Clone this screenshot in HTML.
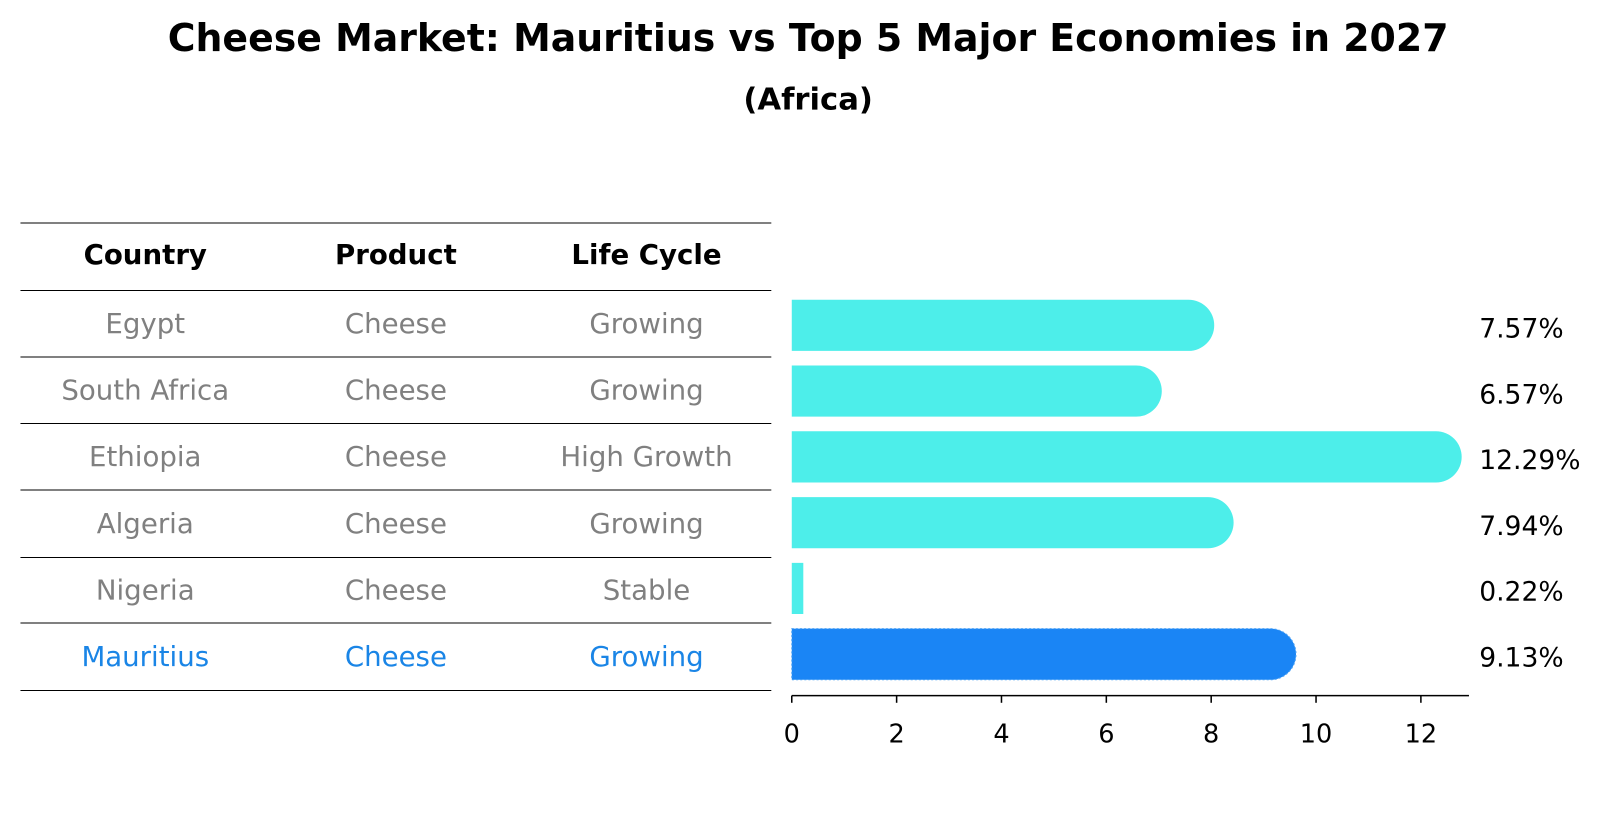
<!DOCTYPE html>
<html><head><meta charset="utf-8"><style>
body{margin:0;background:#fff;font-family:"Liberation Sans","DejaVu Sans",sans-serif;overflow:hidden}
</style></head><body>
<svg width="1604" height="823" viewBox="0 0 1568 804.5" xmlns="http://www.w3.org/2000/svg" font-family="DejaVu Sans, Liberation Sans, sans-serif" style="display:block">
<text x="790" y="50" text-anchor="middle" font-size="37" font-weight="bold">Cheese Market: Mauritius vs Top 5 Major Economies in 2027</text>
<text x="790" y="107" text-anchor="middle" font-size="30" font-weight="bold">(Africa)</text>
<g id="table"></g>
<g id="bars"></g>
<g id="axis"></g>
</svg>
<script>
const countries=["Egypt","South Africa","Ethiopia","Algeria","Nigeria","Mauritius"];
const products=["Cheese","Cheese","Cheese","Cheese","Cheese","Cheese"];
const lifeCycles=["Growing","Growing","High Growth","Growing","Stable","Growing"];
const values=[7.57,6.57,12.29,7.94,0.22,9.13];
const ticks=[0,2,4,6,8,10,12];
const NS="http://www.w3.org/2000/svg";
function mk(t,a,p){const e=document.createElementNS(NS,t);for(const k in a)e.setAttribute(k,a[k]);p.appendChild(e);return e;}
const x=v=>774+v*51.25;
const rowY=i=>318+i*64.3;
const tb=document.getElementById('table');
const lines=[218,284,349,414,479,545,609,675];
lines.forEach((y,i)=>{const l=mk('line',{x1:20,x2:754,y1:y,y2:y,stroke:'#000','stroke-width':1},tb);

});
const cols=[142,387,632];
["Country","Product","Life Cycle"].forEach((h,j)=>{const t=mk('text',{x:cols[j],y:258,'text-anchor':'middle','font-size':27,'font-weight':'bold'},tb);t.textContent=h;

});
countries.forEach((c,i)=>{const col=i===5?'#1a85e6':'#808080';
[c,products[i],lifeCycles[i]].forEach((s,j)=>{const t=mk('text',{x:cols[j],y:(lines[i+1]+lines[i+2])/2+9,'text-anchor':'middle','font-size':27,fill:col},tb);t.textContent=s;

});});
const bg=document.getElementById('bars');
values.forEach((v,i)=>{const cy=rowY(i),h=50,w=x(v)-x(0);const hl=i===5;
const r=25;
const p=mk('path',{d:`M${x(0)},${cy-h/2} H${x(v)} A${r},25 0 0 1 ${x(v)},${cy+h/2} H${x(0)} Z`,fill:hl?'#1a85f5':'#4deeea'},bg);
if(w<20)p.setAttribute('d',`M${x(0)},${cy-h/2} H${x(v)} V${cy+h/2} H${x(0)} Z`);
if(hl){p.setAttribute('stroke','#4da3f5');p.setAttribute('stroke-dasharray','2 2');}


const t=mk('text',{x:1446,y:cy+12,'font-size':26},bg);t.textContent=v.toFixed(2)+'%';

});
const ax=document.getElementById('axis');
const al=mk('line',{x1:774,x2:1436,y1:680,y2:680,stroke:'#000','stroke-width':1.5},ax);


ticks.forEach(tv=>{const l=mk('line',{x1:x(tv),x2:x(tv),y1:680,y2:687,stroke:'#000','stroke-width':1.5},ax);


const t=mk('text',{x:x(tv),y:726,'text-anchor':'middle','font-size':25},ax);t.textContent=tv;

});
</script>
</body></html>
